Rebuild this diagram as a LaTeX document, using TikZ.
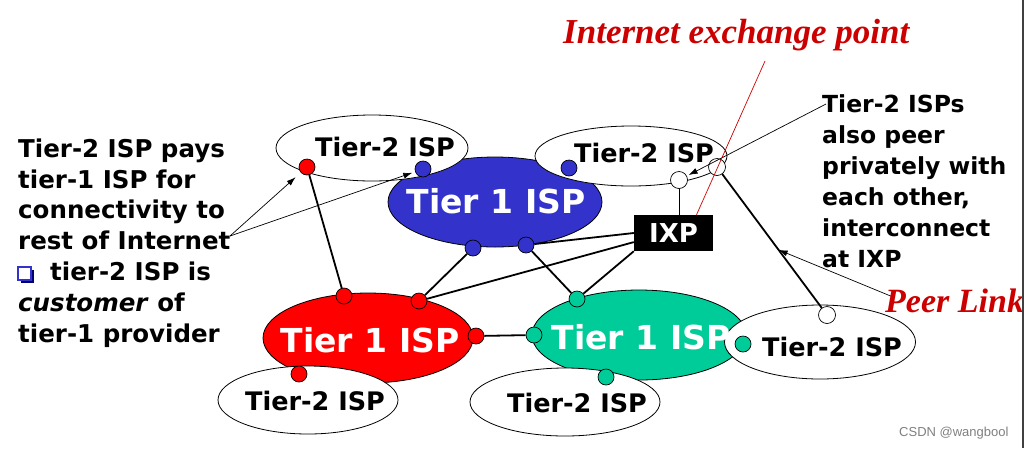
\documentclass[tikz,border=0pt]{standalone}
\usepackage{fontspec}
\setmainfont{DejaVu Sans}
\newfontfamily\serifbi{Liberation Serif}
\newfontfamily\wmfont{Liberation Sans}
\usetikzlibrary{shapes.geometric,arrows.meta,calc}
\definecolor{tblue}{RGB}{51,51,204}
\definecolor{tred}{RGB}{255,0,0}
\definecolor{tgreen}{RGB}{0,204,153}
\definecolor{lblred}{RGB}{204,0,0}
\begin{document}
\begin{tikzpicture}[x=1pt,y=-1pt,
  tierone/.style={ellipse, draw=black, line width=0.8pt, inner sep=0pt},
  tiertwo/.style={ellipse, draw=black, fill=white, line width=0.8pt, inner sep=0pt},
  dot/.style={circle, draw=black, line width=0.7pt, fill=#1, minimum size=16pt, inner sep=0pt},
  wdot/.style={circle, draw=black, line width=0.7pt, fill=white, minimum size=17pt, inner sep=0pt},
  link/.style={line width=1.8pt},
  callout/.style={line width=0.7pt, -{Latex[length=9pt,width=6pt]}},
  t2text/.style={font=\fontsize{25.5}{30}\selectfont\bfseries, inner sep=0pt},
  t1text/.style={font=\fontsize{33}{36}\selectfont\bfseries, text=white, inner sep=0pt},
  blocktext/.style={anchor=north west, align=left, inner sep=0pt},
]
\useasboundingbox (0,0) rectangle (1024,448);
\fill[white] (0,0) rectangle (1024,448);

% Tier-1 ISPs
\node[tierone, fill=tblue, minimum width=214pt, minimum height=90pt] (blue) at (495,202) {};
\node[tierone, fill=tred, minimum width=210pt, minimum height=90pt] (red) at (368,338) {};
\node[tierone, fill=tgreen, minimum width=214pt, minimum height=90pt] (green) at (639,335) {};

% Tier-2 ISPs
\node[tiertwo, minimum width=192pt, minimum height=66pt] (t2tl) at (372,148) {};
\node[tiertwo, minimum width=192pt, minimum height=60pt] (t2tr) at (631,156) {};
\node[tiertwo, minimum width=180pt, minimum height=68pt] (t2bl) at (308,400) {};
\node[tiertwo, minimum width=190pt, minimum height=68pt] (t2bm) at (565,402) {};
\node[tiertwo, minimum width=191pt, minimum height=74pt] (t2r) at (820,342) {};

% IXP
\node[fill=black, minimum width=79pt, minimum height=36pt, inner sep=0pt, text=white,
      font=\fontsize{26}{28}\selectfont\bfseries] (ixp) at (673.5,233) {IXP};

% dots
\node[dot=tblue] (b1) at (423,169) {};
\node[dot=tblue] (b2) at (569,168) {};
\node[dot=tblue] (b3) at (473,248) {};
\node[dot=tblue] (b4) at (526,245) {};
\node[dot=tred] (rtl) at (307,167) {};
\node[dot=tred] (r1) at (344,296) {};
\node[dot=tred] (r2) at (419,301) {};
\node[dot=tred] (r3) at (476,336) {};
\node[dot=tred] (r4) at (299,374) {};
\node[dot=tgreen] (g1) at (577,299) {};
\node[dot=tgreen] (g2) at (534,335) {};
\node[dot=tgreen] (g3) at (606,377) {};
\node[dot=tgreen] (g4) at (743,344) {};
\node[wdot] (w1) at (679,180) {};
\node[wdot] (w2) at (717,167) {};
\node[wdot] (w3) at (827,315) {};

% links
\draw[link] (rtl) -- (r1);
\draw[link] (b3) -- (r2);
\draw[link] (r2) -- ($(ixp.south west)!0.25!(ixp.north west)$);
\draw[link] (b4) -- (ixp.west);
\draw[link] (b4) -- (g1);
\draw[link] (g1) -- (ixp.south west);
\draw[link] (r3) -- (g2);
\draw[line width=0.9pt] (ixp.north -| w1) -- (w1);
\draw[link] (w2) -- (w3);

% labels
\node[t2text] (l2tl) at (385,147) {Tier-2 ISP};
\node[t2text] (l2tr) at (644,153) {Tier-2 ISP};
\node[t2text] (l2bl) at (315,401) {Tier-2 ISP};
\node[t2text] (l2bm) at (577,403) {Tier-2 ISP};
\node[t2text] (l2r) at (832,347) {Tier-2 ISP};
\node[t1text] (l1b) at (496,201) {Tier 1 ISP};
\node[t1text] (l1r) at (370,340) {Tier 1 ISP};
\node[t1text] (l1g) at (641,337) {Tier 1 ISP};

% left text
\fill[blue!45!black] (21,270) rectangle (34,283);
\filldraw[fill=white, draw=tblue, line width=1.5pt] (18,267) rectangle (31,280);
\node[blocktext, font=\fontsize{24.5}{30.8}\selectfont\bfseries] (lefttext) at (18,138.5)
  {Tier-2 ISP pays\\ tier-1 ISP for\\ connectivity to\\ rest of Internet\\
   \hspace*{32pt}tier-2 ISP is\\ \textit{customer} of\\ tier-1 provider};

% right text
\node[blocktext, font=\fontsize{23.5}{31}\selectfont\bfseries] (righttext) at (822,94)
  {Tier-2 ISPs\\ also peer\\ privately with\\ each other,\\ interconnect\\ at IXP};

% callouts
\coordinate (lc) at (230,236);
\draw[callout, shorten >=7pt] (lc) -- (rtl);
\draw[callout, shorten >=3pt] (lc) -- (b1);
\coordinate (rc) at (826,104);
\draw[callout, shorten >=2pt] (rc) -- (w1);
\coordinate (pk) at ($(w2)!0.56!(w3)$);
\coordinate (pc) at (893,297);
\draw[callout] (pc) -- (pk);

% red labels
\node[anchor=base west, inner sep=0pt, text=lblred,
      font=\serifbi\fontsize{35}{40}\selectfont\bfseries\itshape] (iepl) at (563,43) {Internet exchange point};
\coordinate (iep) at (765,61);
\draw[lblred, line width=0.7pt] (iep) -- ($(ixp.north)+(23,0)$);
\node[anchor=base west, inner sep=0pt, text=lblred,
      font=\serifbi\fontsize{34}{38}\selectfont\bfseries\itshape] (peerl) at (885,312) {Peer Link};

% watermark and right edge
\node[anchor=base west, inner sep=0pt, text=black!50,
      font=\wmfont\fontsize{13}{15}\selectfont] (wm) at (899,436) {CSDN @wangbool};
\fill[white] (1021.5,0) rectangle (1024,448);
\draw[line width=1.5pt, black!75] (1022.8,0) -- (1022.8,448);
\end{tikzpicture}
\end{document}
